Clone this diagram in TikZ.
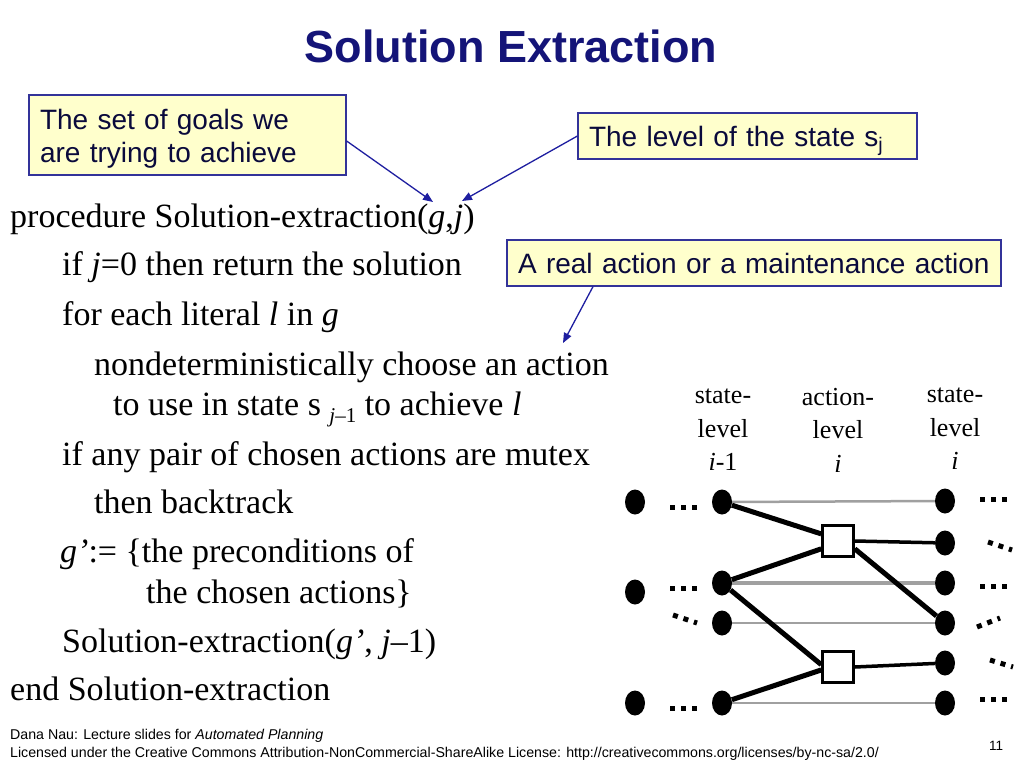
\documentclass[tikz,border=0pt]{standalone}
\usepackage{fontspec}
\setmainfont{Liberation Serif}
\setsansfont{Liberation Sans}
\usetikzlibrary{shapes.geometric,arrows.meta}
\definecolor{titleblue}{RGB}{20,20,120}
\definecolor{calloutfill}{RGB}{255,255,204}
\definecolor{calloutborder}{RGB}{51,51,153}
\definecolor{callouttext}{RGB}{10,10,60}
\definecolor{arrowblue}{RGB}{30,30,160}
\definecolor{linegray}{RGB}{160,160,160}
\begin{document}
\begin{tikzpicture}[x=1pt,y=-1pt,
  body/.style={anchor=base west,inner sep=0,font=\fontsize{34}{40}\selectfont},
  callout/.style={draw=calloutborder,line width=1.2pt,fill=calloutfill,text=callouttext,
    font=\sffamily\fontsize{28}{33}\selectfont,align=left,inner xsep=11pt,inner ysep=0pt},
  callarrow/.style={draw=arrowblue,line width=1.3pt,-{Triangle[length=10pt,width=8pt]}},
  lbl/.style={anchor=base,inner sep=0,font=\fontsize{26}{30}\selectfont},
  dot/.style={ellipse,fill=black,minimum width=20pt,minimum height=25pt,inner sep=0},
  act/.style={draw=black,line width=2.5pt,fill=white,minimum size=31pt,inner sep=0},
  grayline/.style={draw=linegray,line width=2.5pt},
  blackline/.style={draw=black,line width=5pt},
  ellip/.style={draw=black,line width=5pt,dash pattern=on 5pt off 6pt},
  foot/.style={anchor=base west,inner sep=0,font=\sffamily\fontsize{14.2}{16}\selectfont}
]
\useasboundingbox[fill=white] (0,0) rectangle (1024,768);

% title
\node[anchor=base,inner sep=0,text=titleblue,font=\sffamily\bfseries\fontsize{45}{50}\selectfont] (title) at (511,63) {Solution Extraction};

% body
\node[body] (l1) at (10,227) {procedure Solution-extraction(\textit{g},\textit{j})};
\node[body] (l2) at (62,275) {if \textit{j}=0 then return the solution};
\node[body] (l3) at (62,325) {for each literal \textit{l} in \textit{g}};
\node[body] (l4) at (94,375) {nondeterministically choose an action};
\node[body] (l5) at (113,415) {to use in state s {\fontsize{21}{24}\selectfont\raisebox{-7pt}{\textit{j}–1}} to achieve \textit{l}};
\node[body] (l6) at (62,465) {if any pair of chosen actions are mutex};
\node[body] (l7) at (94,513) {then backtrack};
\node[body] (l8) at (60,562) {\textit{g’}:= \{the preconditions of};
\node[body] (l9) at (146,603) {the chosen actions\}};
\node[body] (l10) at (62,652) {Solution-extraction(\textit{g’}, \textit{j}–1)};
\node[body] (l11) at (10,700) {end Solution-extraction};

% callouts
\node[callout,minimum width=317pt,minimum height=80pt,text width=295pt,text depth=32pt] (c1) at (187.5,135) {The set of goals we\\are trying to achieve};
\node[callout,minimum width=339pt,minimum height=46pt,text width=317pt,text depth=0pt] (c2) at (747.5,136) {The level of the state s\textsubscript{j}};
\node[callout,minimum width=494pt,minimum height=46pt,text width=472pt,text depth=0pt] (c3) at (754,263) {A real action or a maintenance action};

\coordinate (t1) at (433,202);
\coordinate (t2) at (462,201);
\coordinate (t3) at (563,343);
\draw[callarrow] (c1.east) ++(0,6) -- (t1);
\draw[callarrow] (c2.west) -- (t2);
\draw[callarrow] (c3.south) ++(-161,0) -- (t3);

% level labels
\node[lbl] (a1) at (723,403) {state-};
\node[lbl] (a2) at (723,437) {level};
\node[lbl] (a3) at (723,470) {\textit{i}-1};
\node[lbl] (m1) at (838,405) {action-};
\node[lbl] (m2) at (838,438) {level};
\node[lbl] (m3) at (838,472) {\textit{i}};
\node[lbl] (z1) at (955,402) {state-};
\node[lbl] (z2) at (955,436) {level};
\node[lbl] (z3) at (955,469) {\textit{i}};

% dots
\node[dot] (p1) at (635,502) {};
\node[dot] (p2) at (635,592) {};
\node[dot] (p3) at (635,703) {};
\node[dot] (b1) at (722,502) {};
\node[dot] (b2) at (722,583) {};
\node[dot] (b3) at (722,623) {};
\node[dot] (b4) at (722,703) {};
\node[dot] (r1) at (945,501) {};
\node[dot] (r2) at (945,543) {};
\node[dot] (r3) at (945,583) {};
\node[dot] (r4) at (945,623) {};
\node[dot] (r5) at (945,663) {};
\node[dot] (r6) at (945,703) {};
\node[act] (s1) at (838,541) {};
\node[act] (s2) at (838,667) {};

% gray maintenance lines
\draw[grayline] (b1) -- (r1);
\draw[grayline,line width=4.5pt] (b2) -- (r3);
\draw[grayline] (b3) -- (r4);
\draw[grayline] (b4) -- (r6);

% black action lines
\draw[blackline] (b1) -- (s1.157);
\draw[blackline] (b2) -- (s1.205);
\draw[blackline] (b2) -- (s2.172);
\draw[blackline] (b4) -- (s2.190);
\draw[blackline,line width=3.5pt] (s1.east) -- (r2);
\draw[blackline] (s1.-25) -- (r4);
\draw[blackline,line width=3.5pt] (s2.east) -- (r5);

% ellipses
\draw[ellip] (670,507) -- (697,507);
\draw[ellip] (670,588) -- (697,588);
\draw[ellip] (673,615) -- (697,623);
\draw[ellip] (670,708) -- (697,708);
\draw[ellip] (980,499) -- (1007,499);
\draw[ellip] (988,542) -- (1012,550);
\draw[ellip] (980,586) -- (1007,586);
\draw[ellip] (977,627) -- (1000,618);
\draw[ellip] (990,660) -- (1013,667);
\draw[ellip] (980,699) -- (1007,699);

% footer
\node[foot] (f1) at (10,739) {Dana Nau: Lecture slides for \textit{Automated Planning}};
\node[foot] (f2) at (10,757) {Licensed under the Creative Commons Attribution-NonCommercial-ShareAlike License: http://creativecommons.org/licenses/by-nc-sa/2.0/};
\node[anchor=base,inner sep=0,font=\sffamily\fontsize{13.5}{16}\selectfont] (pg) at (996,750) {11};
\end{tikzpicture}
\end{document}
